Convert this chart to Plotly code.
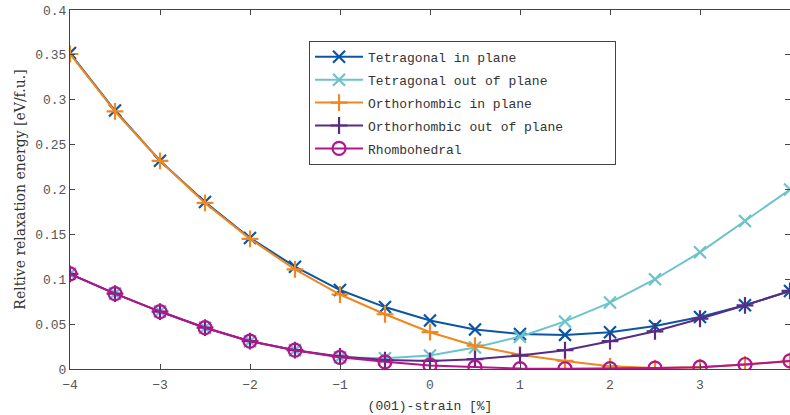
import plotly.graph_objects as go

strain = [-4, -3.5, -3, -2.5, -2, -1.5, -1, -0.5, 0, 0.5, 1, 1.5, 2, 2.5, 3, 3.5, 4]

tet_in = [0.352, 0.288, 0.232, 0.186, 0.146, 0.114, 0.088, 0.069, 0.054, 0.044,
          0.039, 0.038, 0.041, 0.048, 0.058, 0.071, 0.087]
tet_out = [0.106, 0.084, 0.064, 0.046, 0.031, 0.021, 0.013, 0.012, 0.015, 0.024,
           0.036, 0.053, 0.074, 0.100, 0.130, 0.165, 0.200]
ortho_in = [0.351, 0.287, 0.232, 0.185, 0.145, 0.111, 0.083, 0.061, 0.041, 0.026,
            0.016, 0.009, 0.003, 0.001, 0.002, 0.005, 0.009]
ortho_out = [0.106, 0.084, 0.064, 0.046, 0.031, 0.021, 0.014, 0.010, 0.009, 0.011,
             0.015, 0.021, 0.031, 0.042, 0.056, 0.071, 0.087]
rhombo = [0.106, 0.084, 0.064, 0.046, 0.031, 0.021, 0.013, 0.008, 0.004, 0.002,
          0.0005, 0.0003, 0.0005, 0.001, 0.002, 0.005, 0.009]

x_ticks = [-4, -3, -2, -1, 0, 1, 2, 3]
y_ticks = [0, 0.05, 0.1, 0.15, 0.2, 0.25, 0.3, 0.35, 0.4]
y_tick_text = ["0", "0.05", "0.1", "0.15", "0.2", "0.25", "0.3", "0.35", "0.4"]

series = [
    ("Tetragonal in plane", tet_in, "#0B56A4", "x-thin-open"),
    ("Tetragonal out of plane", tet_out, "#6CC3CC", "x-thin-open"),
    ("Orthorhombic in plane", ortho_in, "#F0871F", "cross-thin-open"),
    ("Orthorhombic out of plane", ortho_out, "#5A2B84", "cross-thin-open"),
    ("Rhombohedral", rhombo, "#B4148C", "circle-open"),
]

mono = "Liberation Mono, DejaVu Sans Mono, monospace"
grey = "#555555"
# trailing non-breaking spaces give the legend box its right-hand padding
pad = "\u00a0" * 6

fig = go.Figure()
for i, (name, vals, color, sym) in enumerate(series):
    fig.add_trace(go.Scatter(
        x=strain, y=vals, name=name + pad, mode="lines+markers",
        legendgroup=f"g{i}",
        line=dict(color=color, width=2),
        marker=dict(symbol=sym, size=12 if sym != "circle-open" else 13,
                    color=color, line=dict(color=color, width=2.2)),
    ))

fig.update_layout(
    width=790, height=415,
    margin=dict(l=70, r=0, t=10, b=46),
    plot_bgcolor="white", paper_bgcolor="white",
    font=dict(family=mono, size=13, color=grey),
    showlegend=True,
    legend=dict(
        x=0.332, y=0.914, xanchor="left", yanchor="top",
        bgcolor="white", bordercolor="#444444", borderwidth=1,
        font=dict(family=mono, size=13, color="#333333"),
        itemwidth=48, tracegroupgap=3,
    ),
)

fig.update_xaxes(
    range=[-4, 4], tickvals=x_ticks, ticktext=[str(v).replace("-", "\u2212") for v in x_ticks],
    ticks="inside", ticklen=5, tickcolor="#444444",
    showline=True, linecolor="#444444", linewidth=1, mirror="ticks",
    showgrid=False, zeroline=False, ticklabelstandoff=3,
    tickfont=dict(family=mono, size=13, color=grey),
    title=dict(text="(001)-strain [%]", font=dict(family=mono, size=13, color="#333333"), standoff=9),
)
fig.update_yaxes(
    range=[0, 0.4], tickvals=y_ticks, ticktext=y_tick_text,
    ticks="inside", ticklen=5, tickcolor="#444444",
    showline=True, linecolor="#444444", linewidth=1, mirror="ticks",
    showgrid=False, zeroline=False, ticklabelstandoff=0,
    tickfont=dict(family=mono, size=13, color=grey),
    title=dict(text="Reltive relaxation energy [eV/f.u.]",
               font=dict(family="DejaVu Serif, Liberation Serif, serif", size=14, color="#333333"),
               standoff=6),
)

fig.write_html("out.html")
